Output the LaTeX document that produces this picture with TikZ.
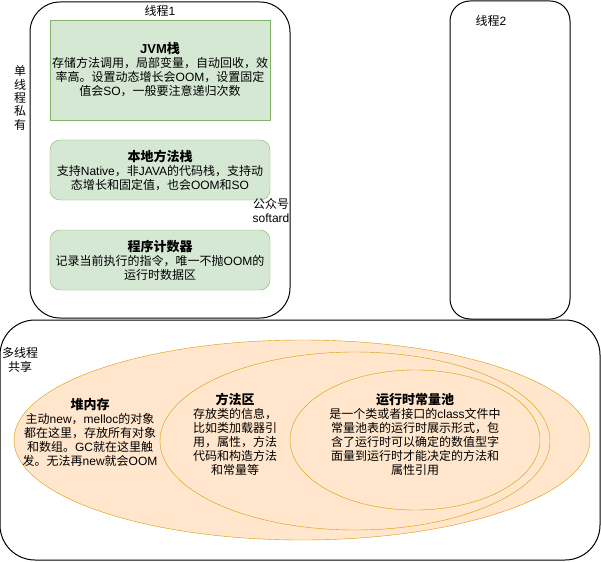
\documentclass[tikz,border=0pt]{standalone}
\usepackage{fontspec}
\setmainfont{Liberation Sans}
\newfontfamily\cjk{Noto Sans CJK SC}
\newfontfamily\latin{Liberation Sans}
% switch to the CJK font for ideographs and full-width punctuation
\makeatletter
\newXeTeXintercharclass\cjkclass
\count@="4E00
\loop\XeTeXcharclass\count@=\cjkclass\ifnum\count@<"9FFF\advance\count@ 1\repeat
\count@="3000
\loop\XeTeXcharclass\count@=\cjkclass\ifnum\count@<"303F\advance\count@ 1\repeat
\count@="FF00
\loop\XeTeXcharclass\count@=\cjkclass\ifnum\count@<"FFEF\advance\count@ 1\repeat
\makeatother
\XeTeXinterchartokenstate=1
\XeTeXinterchartoks 0 \cjkclass = {\cjk}
\XeTeXinterchartoks 4095 \cjkclass = {\cjk}
\XeTeXinterchartoks \cjkclass 0 = {\latin}
\XeTeXinterchartoks \cjkclass 4095 = {\latin}
\usetikzlibrary{shapes.geometric}
\definecolor{stackfill}{HTML}{D5E8D4}
\definecolor{stackline}{HTML}{82B366}
\definecolor{heapfill}{HTML}{FFE6CC}
\definecolor{heapline}{HTML}{D79B00}
\tikzset{
	thread/.style = {draw, line width=1pt, rectangle, inner sep=0pt},
	stackbox/.style = {draw=stackline, fill=stackfill, rectangle, inner sep=0pt, minimum width=220pt},
	heaparea/.style = {draw=heapline, fill=heapfill, ellipse, inner sep=0pt},
	txt/.style = {align=center, inner sep=0pt, font=\fontsize{12}{14}\selectfont},
}
\newcommand{\hd}[1]{{\bfseries\fontsize{13}{15}\selectfont #1}}
\begin{document}
\begin{tikzpicture}[x=1pt, y=-1pt]
		\useasboundingbox (0,0) rectangle (601,561);
		% private part
		\node (thread1)[thread, rounded corners=30pt, minimum width=260pt, minimum height=316pt] at (160,160){};
		\node (t1label)[txt] at (160,11){线程1};
		\node (jvm)[stackbox, minimum height=100pt] at (160,70){};
		\node (jvmtext)[txt] at (jvm.center){\hd{JVM栈}\\存储方法调用，局部变量，自动回收，效\\率高。设置动态增长会OOM，设置固定\\值会SO，一般要注意递归次数};
		\node (native)[stackbox, rounded corners=10pt, minimum height=60pt] at (160,170){};
		\node (nativetext)[txt] at (native.center){\hd{本地方法栈}\\支持Native，非JAVA的代码栈，支持动\\态增长和固定值，也会OOM和SO};
		\node (pc)[stackbox, rounded corners=10pt, minimum height=60pt] at (160,260){};
		\node (pctext)[txt] at (pc.center){\hd{程序计数器}\\记录当前执行的指令，唯一不抛OOM的\\运行时数据区};
		\node (mark)[txt] at (271,210){公众号\\softard};
		\node (private)[txt, font=\fontsize{12}{13.3}\selectfont] at (20,98){单\\线\\程\\私\\有};
		%
		\node (thread2)[thread, rounded corners=20pt, minimum width=120pt, minimum height=318pt] at (510,160){};
		\node (t2label)[txt] at (491,21){线程2};
		% shared part
		\node (shared)[thread, rounded corners=35pt, minimum width=600pt, minimum height=240pt] at (300,440){};
		\node (sharedlabel)[txt] at (20,360){多线程\\共享};
		\node (heap)[heaparea, minimum width=576pt, minimum height=200pt] at (302,440){};
		\node (method)[heaparea, minimum width=390pt, minimum height=178pt] at (355,441){};
		\node (pool)[heaparea, minimum width=250pt, minimum height=140pt] at (415,440){};
		\node (heaptext)[txt] at (90,432){\hd{堆内存}\\主动new，melloc的对象\\都在这里，存放所有对象\\和数组。GC就在这里触\\发。无法再new就会OOM};
		\node (methodtext)[txt] at (235,434){\hd{方法区}\\存放类的信息，\\比如类加载器引\\用，属性，方法\\代码和构造方法\\和常量等};
		\node (pooltext)[txt] at (415,434){\hd{运行时常量池}\\是一个类或者接口的class文件中\\常量池表的运行时展示形式，包\\含了运行时可以确定的数值型字\\面量到运行时才能决定的方法和\\属性引用};
	\end{tikzpicture}
\end{document}
